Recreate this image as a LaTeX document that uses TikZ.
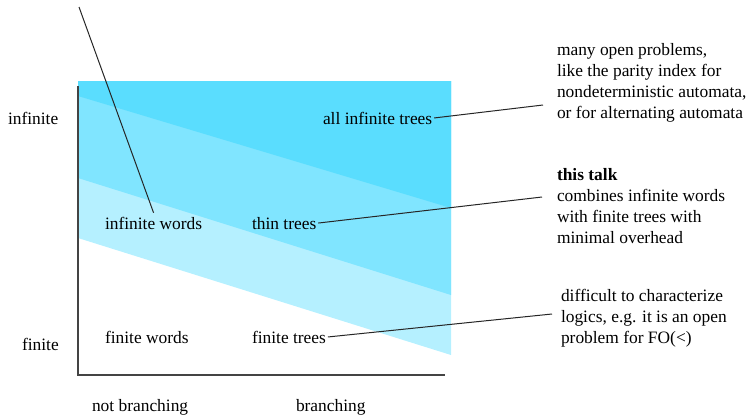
\documentclass[tikz,border=0pt]{standalone}
\usepackage{fontspec}
\setmainfont{Liberation Serif}
\definecolor{bandA}{HTML}{5ADDFE}
\definecolor{bandB}{HTML}{80E5FF}
\definecolor{bandC}{HTML}{B5F0FF}
\definecolor{axisgray}{HTML}{444444}
\begin{document}
\begin{tikzpicture}[x=1bp,y=-1bp,
  lbl/.style={inner sep=0pt, outer sep=2bp, anchor=base west, font=\fontsize{17.4bp}{21bp}\selectfont},
  note/.style={lbl, align=left},
  conn/.style={line width=1bp, black!85},
  axis/.style={line width=1.6bp, axisgray}]
\useasboundingbox (0,0) rectangle (750,414);
% bands
\fill[bandC] (78,81) -- (451,81) -- (451,355) -- (78,238) -- cycle;
\fill[bandB] (78,81) -- (451,81) -- (451,295) -- (78,178) -- cycle;
\fill[bandA] (78,81) -- (451,81) -- (451,208) -- (78,96) -- cycle;
% axes
\coordinate (ytop) at (78,86);
\coordinate (origin) at (78,375);
\coordinate (xend) at (445,375);
\draw[axis] (ytop) -- (origin) -- (xend);
% axis labels
\node[lbl] (yinf) at (6,124) {infinite};
\node[lbl] (yfin) at (20,350) {finite};
\node[lbl] (xnb) at (90,411) {not branching};
\node[lbl] (xb) at (294,411) {branching};
% cell labels
\node[lbl] (iw) at (103,229) {infinite words};
\node[lbl] (fw) at (103,343) {finite words};
\node[lbl] (tt) at (250,229) {thin trees};
\node[lbl] (ft) at (250,343) {finite trees};
\node[lbl] (ait) at (321,124) {all infinite trees};
% notes (base anchor = baseline of last line)
\node[note] (open) at (555,118) {many open problems,\\like the parity index for\\nondeterministic automata,\\or for alternating automata};
\node[note] (talk) at (555,243) {\textbf{this talk}\\combines infinite words\\with finite trees with\\minimal overhead};
\node[note] (diff) at (559,343) {difficult to characterize\\logics, e.g. it is an open\\problem for FO(<)};
% connectors
\coordinate (topend) at (79,7);
\coordinate (c1) at (543,105);
\coordinate (c2) at (542,197);
\coordinate (c3) at (552,314);
\draw[conn] (topend) -- ([yshift=2bp]iw.north);
\draw[conn] (ait.east) -- (c1);
\draw[conn] (tt.east) -- (c2);
\draw[conn] (ft.east) -- (c3);
\end{tikzpicture}
\end{document}
